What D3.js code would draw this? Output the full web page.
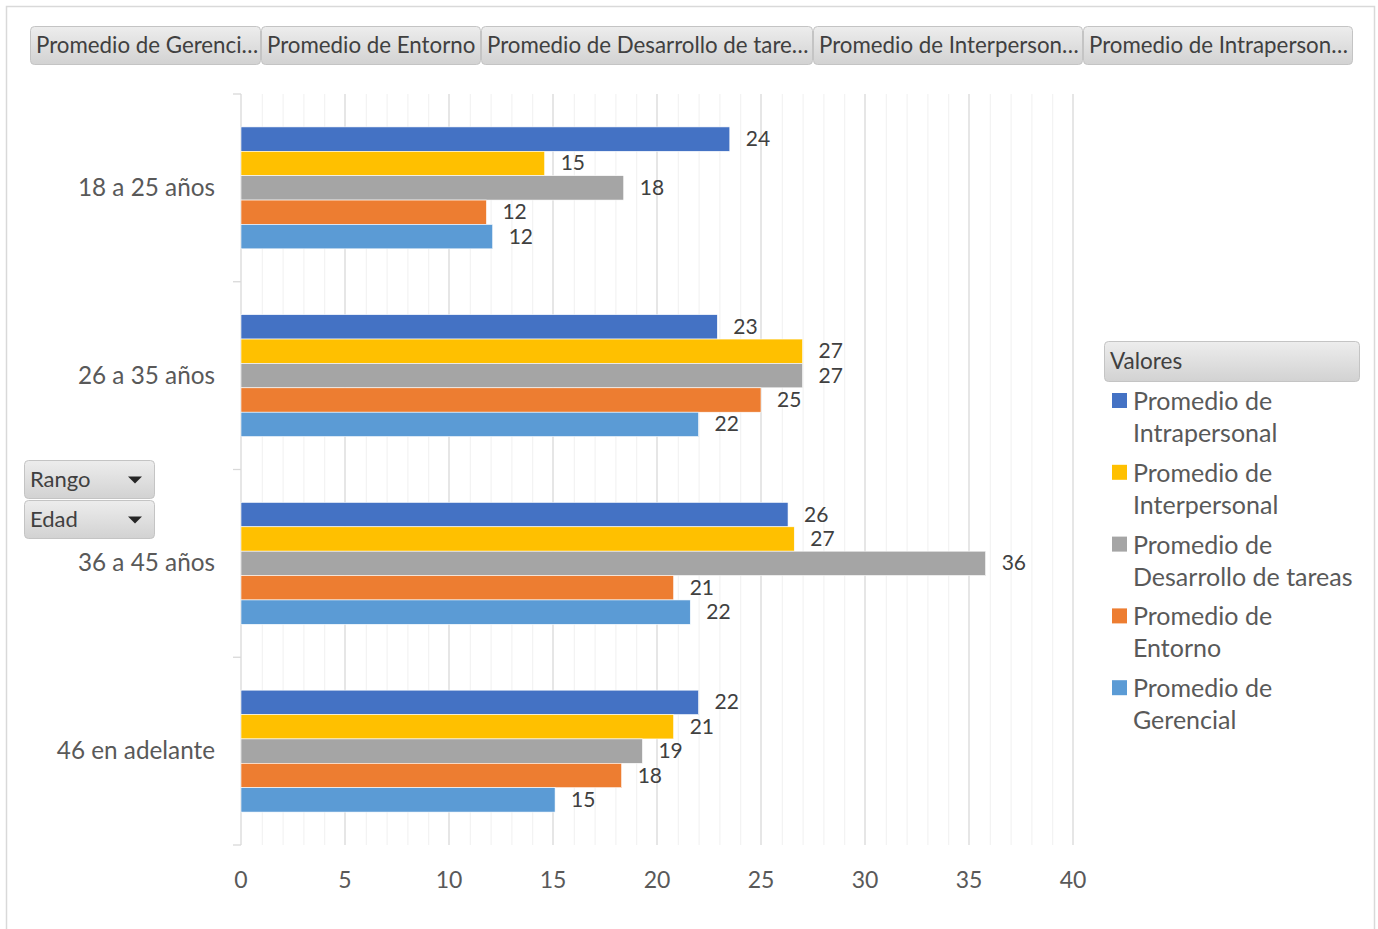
<!DOCTYPE html>
<html>
<head>
<meta charset="utf-8">
<script src="https://cdn.jsdelivr.net/npm/d3@7"></script>
<style>
  body { margin: 0; background: #fff; }
  svg { font-family: Lato, "Open Sans", sans-serif; }
</style>
</head>
<body>
<div id="chart"></div>
<script>
// -------- data --------
const categories = ["18 a 25 años", "26 a 35 años", "36 a 45 años", "46 en adelante"]
const seriesNames = ["Promedio de Intrapersonal", "Promedio de Interpersonal", "Promedio de Desarrollo de tareas", "Promedio de Entorno", "Promedio de Gerencial"]
const seriesColors = ["#4472C4", "#FFC000", "#A5A5A5", "#ED7D31", "#5B9BD5"]
const intrapersonal = [23.5, 22.9, 26.3, 22.0]
const interpersonal = [14.6, 27.0, 26.6, 20.8]
const desarrollo = [18.4, 27.0, 35.8, 19.3]
const entorno = [11.8, 25.0, 20.8, 18.3]
const gerencial = [12.1, 22.0, 21.6, 15.1]
const xTicks = [0, 5, 10, 15, 20, 25, 30, 35, 40]
const topButtons = ["Promedio de Gerenci…", "Promedio de Entorno", "Promedio de Desarrollo de tare…", "Promedio de Interperson…", "Promedio de Intraperson…"]
const legendLines = [["Promedio de", "Intrapersonal"], ["Promedio de", "Interpersonal"], ["Promedio de", "Desarrollo de tareas"], ["Promedio de", "Entorno"], ["Promedio de", "Gerencial"]]

const seriesValues = [intrapersonal, interpersonal, desarrollo, entorno, gerencial]

const conf = {
    width: 1378,
    height: 929,
    plot: {left: 241, right: 1073, top: 94, bottom: 845}
}

const svg = d3.select("#chart").append("svg")
    .attr("width", conf.width)
    .attr("height", conf.height)

let defs = svg.append("defs")
let grad = defs.append("linearGradient").attr("id", "btn").attr("x1", 0).attr("y1", 0).attr("x2", 0).attr("y2", 1)
grad.append("stop").attr("offset", "0%").attr("stop-color", "#ededed")
grad.append("stop").attr("offset", "100%").attr("stop-color", "#d2d2d2")

// outer frame
svg.append("rect")
    .attr("x", 6.5).attr("y", 6.5)
    .attr("width", conf.width - 10).attr("height", conf.height)
    .attr("fill", "none").attr("stroke", "#d9d9d9").attr("stroke-width", 1.5)

function button(g, x, y, w, h, label, arrow, fs) {
    let b = g.append("g").attr("transform", "translate(" + x + "," + y + ")")
    b.append("rect")
        .attr("x", 0.5).attr("y", 0.5).attr("width", w - 1).attr("height", h - 1)
        .attr("rx", 4).attr("fill", "url(#btn)").attr("stroke", "#c4c4c4")
    b.append("text")
        .attr("x", 6).attr("y", h / 2 + 7)
        .attr("font-size", fs || 22).attr("fill", "#404040")
        .text(label)
    if (arrow) {
        b.append("path")
            .attr("d", "M" + (w - 27) + "," + (h / 2 - 3) + "h14l-7,7z")
            .attr("fill", "#262626")
    }
}

// top field buttons
const btnEdges = [30, 261, 481, 813, 1083, 1353]
let topG = svg.append("g")
topButtons.forEach((t, i) => {
    button(topG, btnEdges[i], 26, btnEdges[i + 1] - btnEdges[i], 39, t, false, 22.3)
})

// scales
const x = d3.scaleLinear().domain([0, 40]).range([conf.plot.left, conf.plot.right])
const y = d3.scaleBand().domain(categories).range([conf.plot.top, conf.plot.bottom]).paddingInner(0).paddingOuter(0)
const yInner = d3.scaleBand().domain(d3.range(seriesNames.length))
    .range([0, y.bandwidth()]).paddingOuter(1.35).paddingInner(0)

// gridlines
let grid = svg.append("g").attr("class", "grid")
grid.selectAll("line.minor")
    .data(d3.range(0, 41).filter(v => v % 5 !== 0))
    .join("line")
    .attr("x1", d => x(d) + 0.5).attr("x2", d => x(d) + 0.5)
    .attr("y1", conf.plot.top).attr("y2", conf.plot.bottom)
    .attr("stroke", "#f0f0f0").attr("stroke-width", 1)
grid.selectAll("line.major")
    .data(xTicks.slice(1))
    .join("line")
    .attr("x1", d => x(d)).attr("x2", d => x(d))
    .attr("y1", conf.plot.top).attr("y2", conf.plot.bottom)
    .attr("stroke", "#d9d9d9").attr("stroke-width", 1.3)

// category axis
let yAxis = svg.append("g").attr("class", "y axis")
yAxis.append("line")
    .attr("x1", conf.plot.left).attr("x2", conf.plot.left)
    .attr("y1", conf.plot.top).attr("y2", conf.plot.bottom)
    .attr("stroke", "#d9d9d9").attr("stroke-width", 1.3)
yAxis.selectAll("line.tick")
    .data(d3.range(categories.length + 1))
    .join("line")
    .attr("x1", conf.plot.left - 8).attr("x2", conf.plot.left)
    .attr("y1", d => conf.plot.top + d * y.bandwidth())
    .attr("y2", d => conf.plot.top + d * y.bandwidth())
    .attr("stroke", "#d9d9d9").attr("stroke-width", 1.3)
yAxis.selectAll("text")
    .data(categories)
    .join("text")
    .attr("x", 215)
    .attr("y", d => y(d) + y.bandwidth() / 2 + 8)
    .attr("text-anchor", "end")
    .attr("font-size", 24.3)
    .attr("fill", "#595959")
    .text(d => d)

// value axis labels
svg.append("g").attr("class", "x axis")
    .selectAll("text")
    .data(xTicks)
    .join("text")
    .attr("x", d => x(d))
    .attr("y", 888)
    .attr("text-anchor", "middle")
    .attr("font-size", 23)
    .attr("fill", "#595959")
    .text(d => d)

// bars
let barsG = svg.append("g").attr("class", "bars")
seriesNames.forEach((name, si) => {
    let data = categories.map((c, ci) => ({cat: c, v: seriesValues[si][ci]}))
    let g = barsG.append("g")
    g.selectAll("rect")
        .data(data)
        .join("rect")
        .attr("x", x(0))
        .attr("y", d => y(d.cat) + yInner(si))
        .attr("width", d => x(d.v) - x(0))
        .attr("height", yInner.bandwidth())
        .attr("fill", seriesColors[si])
        .attr("stroke", "#fff").attr("stroke-width", 0.6)
    g.selectAll("text")
        .data(data)
        .join("text")
        .attr("x", d => x(d.v) + 16)
        .attr("y", d => y(d.cat) + yInner(si) + yInner.bandwidth() / 2 + 7)
        .attr("font-size", 21)
        .attr("fill", "#404040")
        .text(d => Math.round(d.v))
})

// row field buttons
let rowG = svg.append("g")
button(rowG, 24, 460, 131, 39, "Rango", true, 22)
button(rowG, 24, 500, 131, 39, "Edad", true, 22)

// legend
let legend = svg.append("g").attr("class", "legend")
button(legend, 1104, 341, 256, 41, "Valores", false, 22.5)
legendLines.forEach((lines, i) => {
    let ly = 401 + i * 71.8
    legend.append("rect")
        .attr("x", 1112).attr("y", ly - 8)
        .attr("width", 15).attr("height", 15)
        .attr("fill", seriesColors[i])
    lines.forEach((ln, j) => {
        legend.append("text")
            .attr("x", 1133).attr("y", ly + 9 + j * 32)
            .attr("font-size", 25)
            .attr("fill", "#595959")
            .text(ln)
    })
})
</script>
</body>
</html>
